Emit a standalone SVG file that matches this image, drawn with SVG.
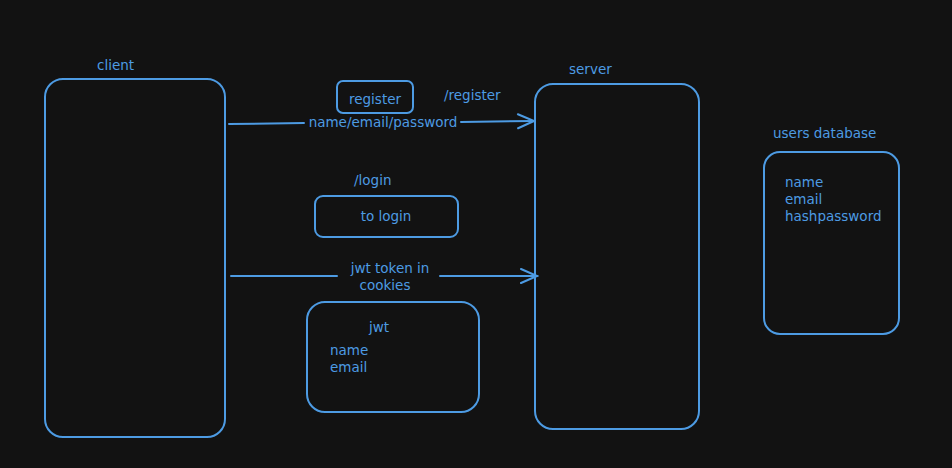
<svg xmlns="http://www.w3.org/2000/svg" width="952" height="468" viewBox="0 0 952 468">
<defs>
<style>
.b{fill:none;stroke:#4d9be3;stroke-width:2}
.t{fill:#4d9be3;font-family:"DejaVu Sans","Liberation Sans",sans-serif;font-size:13.5px}
.m{text-anchor:middle}
.c{fill:none;stroke:#4d9be3;stroke-width:2;stroke-linecap:round}
</style>
<marker id="ah" viewBox="0 0 20 20" refX="18" refY="10" markerWidth="20" markerHeight="20" markerUnits="userSpaceOnUse" orient="auto">
<path d="M2 3 L18 10 L2 17" fill="none" stroke="#4d9be3" stroke-width="2" stroke-linecap="round"/>
</marker>
</defs>
<rect width="952" height="468" fill="#121212"/>
<g id="client">
<rect class="b" x="45" y="79" width="180" height="358" rx="18"/>
<text class="t" x="97" y="70">client</text>
</g>
<g id="server">
<rect class="b" x="535" y="84" width="164" height="345" rx="18"/>
<text class="t" x="569" y="74">server</text>
</g>
<g id="usersdb">
<rect class="b" x="764" y="152" width="135" height="182" rx="16"/>
<text class="t" x="773" y="138">users database</text>
<text class="t" x="785" y="187">name</text>
<text class="t" x="785" y="204">email</text>
<text class="t" x="785" y="221">hashpassword</text>
</g>
<g id="register">
<rect class="b" x="337" y="81" width="76" height="32" rx="6"/>
<text class="t m" x="375" y="104">register</text>
</g>
<g id="registerlabel">
<text class="t" x="444" y="100">/register</text>
</g>
<g id="login">
<rect class="b" x="315" y="196" width="143" height="41" rx="8"/>
<text class="t m" x="386" y="221">to login</text>
</g>
<g id="loginlabel">
<text class="t" x="354" y="185">/login</text>
</g>
<g id="jwt">
<rect class="b" x="307" y="302" width="172" height="110" rx="18"/>
<text class="t" x="369" y="332">jwt</text>
<text class="t" x="330" y="355">name</text>
<text class="t" x="330" y="372">email</text>
</g>
<g id="connectors">
<path class="c" d="M229 124 L304 123"/>
<path class="c" d="M461 122 L534 121" marker-end="url(#ah)"/>
<text class="t m" x="383" y="127">name/email/password</text>
<path class="c" d="M231 276 L337 276"/>
<path class="c" d="M440 276 L537 276" marker-end="url(#ah)"/>
<text class="t m" x="390" y="273">jwt token in</text>
<text class="t m" x="385" y="290">cookies</text>
</g>
</svg>
